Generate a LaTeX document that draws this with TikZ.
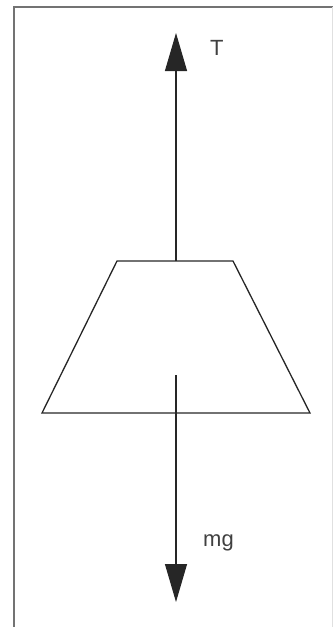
\documentclass[tikz,border=0pt]{standalone}
\usepackage{fontspec}
\setmainfont{Liberation Sans}
\usetikzlibrary{arrows.meta}
\begin{document}
\begin{tikzpicture}[x=1pt,y=-1pt,
  frame/.style={draw=black!55,line width=1.2pt},
  force/.style={draw=black!85,line width=1.1pt,-{Triangle[length=38pt,width=22pt]}},
  bodyshape/.style={draw=black!85,line width=1.3pt,line join=miter},
  lbl/.style={text=black!75,font=\fontsize{22}{22}\selectfont,inner sep=0pt}]
\useasboundingbox (0,0) rectangle (333,627);
\draw[frame] (14,627) -- (14,7) -- (333,7);
\draw[draw=black!12,line width=1pt] (332,7) -- (332,627);
\coordinate (tl) at (117,261);
\coordinate (tr) at (233,261);
\coordinate (br) at (310,413);
\coordinate (bl) at (42,413);
\coordinate (top) at (176,261);
\draw[bodyshape] (tl) -- (tr) -- (br) -- (bl) -- cycle;
\coordinate (Ttip) at (176,33);
\coordinate (cg) at (176,375);
\coordinate (mgtip) at (176,602);
\draw[force] (top) -- (Ttip);
\draw[force] (cg) -- (mgtip);
\node[lbl,anchor=west] (T) at (210,48) {T};
\node[lbl,anchor=west] (mg) at (203,543) {mg};
\end{tikzpicture}
\end{document}
